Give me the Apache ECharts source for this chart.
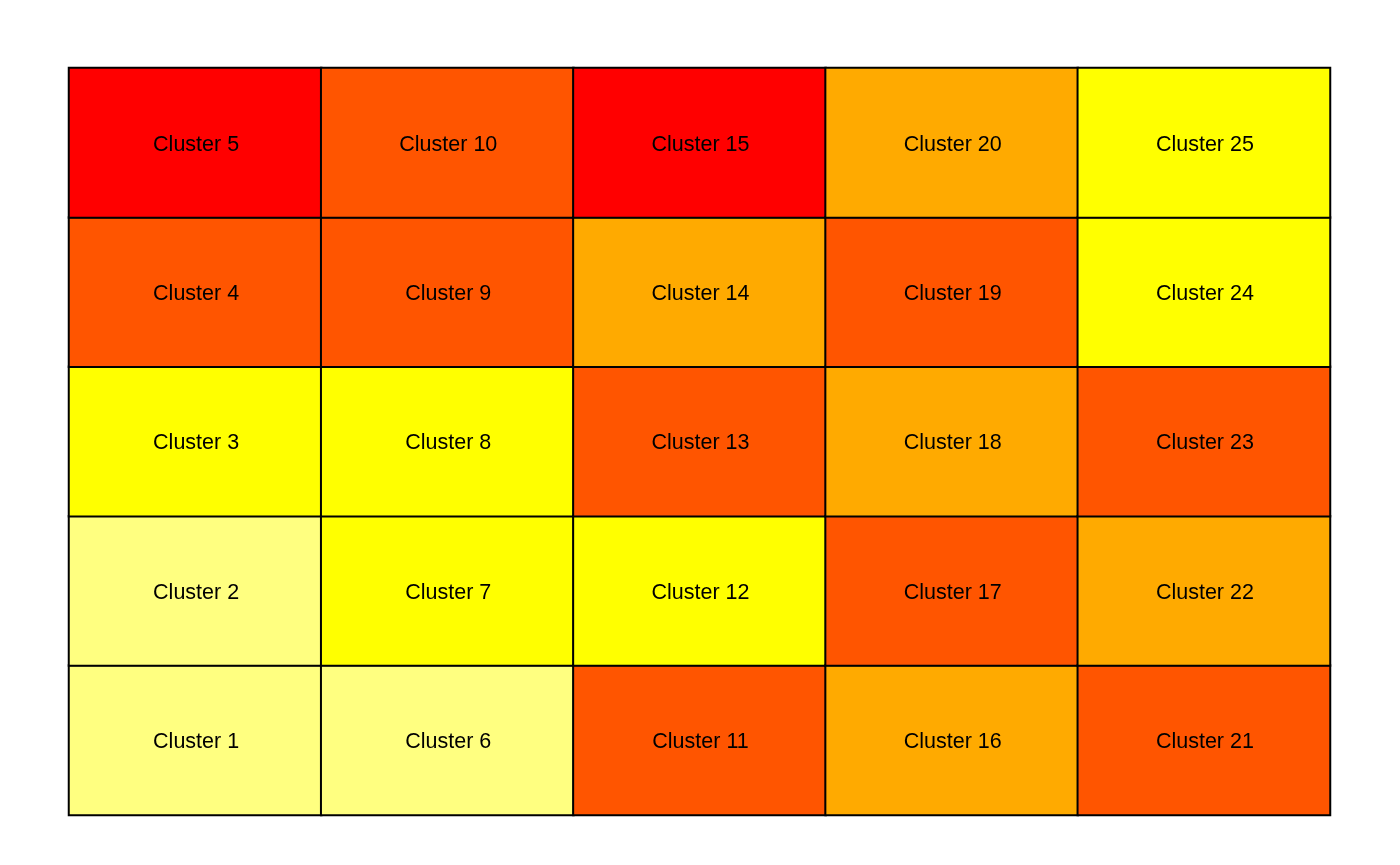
<!DOCTYPE html>
<html>
<head>
<meta charset="utf-8">
<script src="https://cdn.jsdelivr.net/npm/echarts@6/dist/echarts.min.js"></script>
<style>html,body{margin:0;padding:0;background:#fff;}#c{width:1400px;height:865px;}</style>
</head>
<body>
<div id="c"></div>
<script>
// Grid columns (x) and rows (y), bottom row first
const xCategories = ['1', '2', '3', '4', '5'];
const yCategories = ['1', '2', '3', '4', '5'];
// Cluster numbers per cell, column by column (bottom to top)
const clusterIds = [
  [1, 2, 3, 4, 5],
  [6, 7, 8, 9, 10],
  [11, 12, 13, 14, 15],
  [16, 17, 18, 19, 20],
  [21, 22, 23, 24, 25]
];
// Colour level per cell (1 = red ... 5 = light yellow), same layout
const levels = [
  [5, 5, 4, 2, 1],
  [5, 4, 4, 2, 2],
  [2, 4, 2, 3, 1],
  [3, 2, 3, 2, 3],
  [2, 3, 2, 4, 4]
];
const levelColors = ['#FF0000', '#FF5500', '#FFAA00', '#FFFF00', '#FFFF80'];

const data = [];
for (let i = 0; i < xCategories.length; i++) {
  for (let j = 0; j < yCategories.length; j++) {
    data.push({ value: [i, j, levels[i][j]], cluster: clusterIds[i][j] });
  }
}

const chart = echarts.init(document.getElementById('c'));
chart.setOption({
  animation: false,
  backgroundColor: '#ffffff',
  grid: { left: 69, right: 70, top: 68, bottom: 50 },
  xAxis: { type: 'category', data: xCategories, show: false },
  yAxis: { type: 'category', data: yCategories, show: false },
  visualMap: {
    show: false,
    type: 'piecewise',
    dimension: 2,
    pieces: levelColors.map((c, k) => ({ value: k + 1, color: c }))
  },
  series: [{
    type: 'heatmap',
    data: data,
    itemStyle: { borderColor: '#000', borderWidth: 2 },
    label: {
      show: true,
      color: '#000',
      fontFamily: 'Liberation Sans, Arial, sans-serif',
      fontSize: 21.5,
      offset: [1, 2],
      formatter: p => 'Cluster ' + p.data.cluster
    },
    emphasis: { disabled: true }
  }]
});
</script>
</body>
</html>
